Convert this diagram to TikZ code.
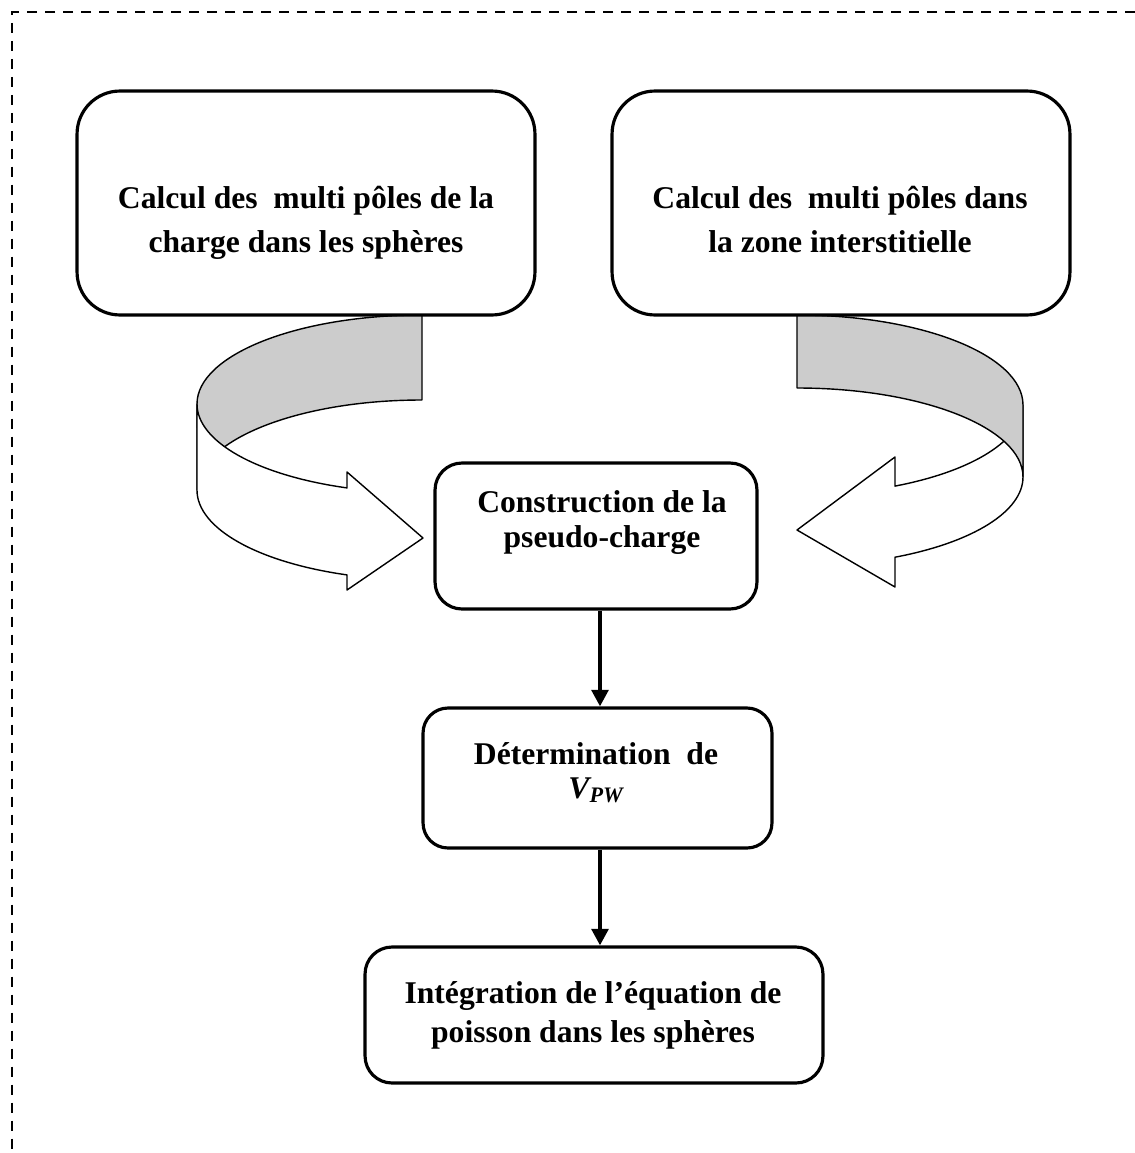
\documentclass[tikz,border=0pt]{standalone}
\usepackage{fontspec}
\setmainfont{Liberation Serif}
\usepackage{xcolor}
\usetikzlibrary{arrows.meta}

\definecolor{bandgray}{RGB}{204,204,204}
\tikzset{
  procbox/.style={draw, line width=1.8pt, rounded corners=#1, inner sep=0pt},
  lbl/.style={font=\bfseries\fontsize{18}{#1}\selectfont, align=center, anchor=base, inner sep=0pt},
  band/.style={draw=black, line width=0.8pt, line join=round},
  flow/.style={line width=2.3pt, -{Triangle[length=9.5pt,width=9.5pt]}},
  borderline/.style={line width=1.1pt, dash pattern=on 0.2cm off 0.16cm}
}

\begin{document}
\begin{tikzpicture}[x=0.02cm,y=-0.02cm]
        \useasboundingbox (0,0) rectangle (1135,1153);
        \draw[borderline] (1135,12) -| (12,1153);

        % left curved arrow: back first, front on top
        \filldraw[band,fill=bandgray] (422,315) arc[start angle=270,end angle=180,x radius=225,y radius=89]
            -- (197,490) arc[start angle=180,end angle=270,x radius=225,y radius=90] -- cycle;
        \filldraw[band,fill=white] (197,404) arc[start angle=180,end angle=109.47,x radius=225,y radius=89]
            -- (347,472) -- (423,538) -- (347,590) -- (347,574.9)
            arc[start angle=109.47,end angle=180,x radius=225,y radius=90] -- cycle;

        % right curved arrow: front first, back on top
        \filldraw[band,fill=white] (1023,405) arc[start angle=0,end angle=64.3,x radius=226,y radius=90]
            -- (895,457) -- (797,530) -- (895,587) -- (895,557.2)
            arc[start angle=64.3,end angle=0,x radius=226,y radius=89] -- cycle;
        \filldraw[band,fill=bandgray] (797,315) arc[start angle=270,end angle=360,x radius=226,y radius=90]
            -- (1023,477) arc[start angle=0,end angle=-90,x radius=226,y radius=89] -- cycle;

        % boxes
        \node[procbox=0.86cm, minimum width=9.16cm, minimum height=4.48cm] (b1) at (306,203) {};
        \node[procbox=0.86cm, minimum width=9.16cm, minimum height=4.48cm] (b2) at (841,203) {};
        \node[procbox=0.54cm, minimum width=6.44cm, minimum height=2.92cm] (b3) at (596,536) {};
        \node[procbox=0.5cm, minimum width=6.98cm, minimum height=2.8cm] (b4) at (597.5,778) {};
        \node[procbox=0.54cm, minimum width=9.16cm, minimum height=2.72cm] (b5) at (594,1015) {};

        % texts (base = last line)
        \node[lbl=24.75pt] (t1) at (306,252) {Calcul des~ multi pôles de la\\charge dans les sphères};
        \node[lbl=24.75pt] (t2) at (840,252) {Calcul des~ multi pôles dans\\la zone interstitielle};
        \node[lbl=19.9pt] (t3) at (602,547) {Construction de la\\pseudo-charge};
        \node[lbl=18.8pt] (t4) at (596,798) {Détermination~ de\\\textit{V\textsubscript{PW}}};
        \node[lbl=22.2pt] (t5) at (593,1042) {Intégration de l’équation de\\poisson dans les sphères};

        \draw[flow] ([xshift=0.08cm]b3.south) -- ([xshift=0.08cm]b3.south |- b4.north);
        \draw[flow] ([xshift=0.05cm]b4.south) -- ([xshift=0.05cm]b4.south |- b5.north);
    \end{tikzpicture}
\end{document}
